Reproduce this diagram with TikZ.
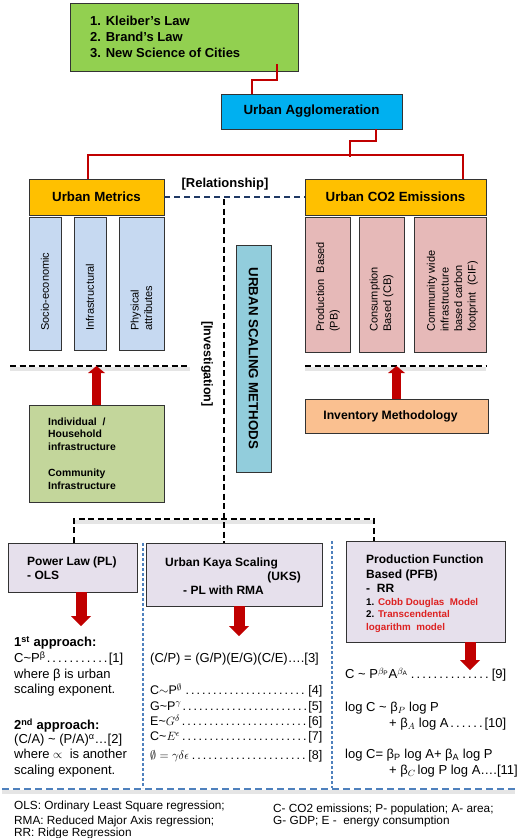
\documentclass[tikz,border=0pt]{standalone}
\usepackage{fontspec}
\setmainfont{Liberation Sans}
\usetikzlibrary{arrows.meta,calc}
\definecolor{kgreen}{HTML}{92D050}
\definecolor{ablue}{HTML}{00B0F0}
\definecolor{uorange}{HTML}{FFC000}
\definecolor{ltblue}{HTML}{C6D9F1}
\definecolor{pinkc}{HTML}{E6B9B8}
\definecolor{sgreen}{HTML}{C3D69B}
\definecolor{peach}{HTML}{FAC090}
\definecolor{usmc}{HTML}{92CDDC}
\definecolor{lav}{HTML}{E6E0EC}
\definecolor{dred}{HTML}{C00000}
\definecolor{tred}{HTML}{DD2222}
\definecolor{navyc}{HTML}{1F3864}
\definecolor{dblue}{HTML}{4F81BD}
\newcommand\myfs[2]{\fontsize{#1}{#2}\selectfont}
\newcommand\mkbox[7]{\node[box, fill=#6, minimum width={#4-#2}, minimum height={#5-#3}] (#1) at ({(#2+#4)/2},{(#3+#5)/2}) {#7};}
\begin{document}
\begin{tikzpicture}[x=1pt,y=-1pt,
  box/.style={draw=black!80, line width=0.9pt, inner sep=0pt, font=\bfseries\myfs{13.3}{15}},
  txt/.style={inner sep=0pt, anchor=base west},
  bt/.style={txt, font=\bfseries\myfs{12}{14}},
  rt/.style={txt, font=\myfs{13}{15}},
  ft/.style={txt, font=\myfs{11.8}{13}},
  gt/.style={txt, font=\bfseries\myfs{10.4}{13}},
  vtxt/.style={rotate=90, anchor=west, align=left, inner sep=0pt, font=\myfs{11}{13.6}},
  redln/.style={draw=dred, line width=1.8pt},
  navyln/.style={draw=navyc, line width=2pt, dash pattern=on 6pt off 4pt},
  blkdash/.style={draw=black, line width=2pt, dash pattern=on 6pt off 3.5pt},
  shd/.style={draw=black, line width=4pt, opacity=0.10},
  bluedash/.style={draw=dblue, line width=1.5pt, dash pattern=on 3pt off 2pt},
  bluedashh/.style={draw=dblue, line width=1.8pt, dash pattern=on 7pt off 4pt},
  upar/.style={draw=dred, line width=9pt, -{Triangle[width=17pt,length=7pt,line width=0pt]}},
  dnar/.style={draw=dred, line width=11pt, -{Triangle[width=20pt,length=10pt,line width=0pt]}}]
\path[use as bounding box, fill=white] (0,0) rectangle (518,838);

% top
\mkbox{laws}{70}{3}{298}{71}{kgreen}{}
\node[txt, font=\bfseries\myfs{13}{16}] (l1) at (90,25.5) {1. Kleiber’s Law};
\node[txt, font=\bfseries\myfs{13}{16}] (l2) at (90,41.7) {2. Brand’s Law};
\node[txt, font=\bfseries\myfs{13}{16}] (l3) at (90,57.7) {3. New Science of Cities};
\mkbox{ua}{221}{94}{402}{129}{ablue}{Urban Agglomeration}

\coordinate (a1) at (277,64);
\coordinate (a2) at (252,80);
\draw[redln] (a1) |- (a2) -- (a2 |- ua.north);
\coordinate (b1) at (376,129);
\coordinate (b2) at (350,141);
\coordinate (b3) at (350,157);
\draw[redln] (b1) |- (b2) -- (b3);

\mkbox{um}{29}{179}{164}{215}{uorange}{Urban Metrics}
\mkbox{co2}{305}{179}{486}{215}{uorange}{Urban CO2 Emissions}
\coordinate (c1) at (88,155);
\coordinate (c2) at (463,155);
\draw[redln] (c1 |- um.north) -- (c1) -- (c2) -- (c2 |- co2.north);

\draw[navyln] (um.east) -- (co2.west);
\node[inner sep=0pt, anchor=base, font=\bfseries\myfs{13}{15}] (rel) at (225,187.5) {[Relationship]};

% metric sub boxes
\mkbox{se}{29}{217}{61}{350}{ltblue}{}
\mkbox{inf}{74}{217}{106}{350}{ltblue}{}
\mkbox{phy}{119}{217}{164}{350}{ltblue}{}
\node[vtxt] (set) at (45,331) {Socio-economic};
\node[vtxt] (inft) at (90,331) {Infrastructural};
\node[vtxt] (phyt) at (141.5,331) {Physical\\attributes};

\mkbox{pb}{305}{217}{350}{352}{pinkc}{}
\mkbox{cb}{359}{217}{404}{352}{pinkc}{}
\mkbox{cif}{414}{217}{486}{352}{pinkc}{}
\node[vtxt] (pbt) at (328,332) {Production\ \ Based\\(PB)};
\node[vtxt] (cbt) at (381.5,332) {Consumption\\Based (CB)};
\node[vtxt] (cift) at (452.5,332) {Community wide\\infrastructure\\based carbon\\footprint\ \ (CIF)};

% urban scaling methods
\mkbox{usm}{236}{245}{271}{472}{usmc}{}
\node[rotate=-90, inner sep=0pt, font=\bfseries\myfs{13.3}{15}] (usmt) at (usm.center) {URBAN SCALING METHODS};
\node[rotate=-90, inner sep=0pt, font=\bfseries\myfs{12.5}{15}] (invg) at (207,364) {[Investigation]};

% dashed lines
\coordinate (v0) at (224,199);
\coordinate (tj) at (224,519);
\coordinate (tl) at (74,519);
\coordinate (tr) at (374,519);
\coordinate (dl1) at (10,366);
\coordinate (dl2) at (190,366);
\coordinate (dr1) at (305,366);
\coordinate (dr2) at (486,366);
\draw[shd] ($(dl1)+(0,3)$) -- ($(dl2)+(0,3)$);
\draw[shd] ($(dr1)+(0,3)$) -- ($(dr2)+(0,3)$);
\draw[shd] ($(tl)+(0,3)$) -- ($(tr)+(0,3)$);
\draw[blkdash] (dl1) -- (dl2);
\draw[blkdash] (dr1) -- (dr2);

% lower left / right boxes
\mkbox{sg}{29}{405}{164}{502}{sgreen}{}
\node[gt] (g1) at (48,425) {Individual\ \ /};
\node[gt] (g2) at (48,437.7) {Household};
\node[gt] (g3) at (48,450.7) {infrastructure};
\node[gt] (g4) at (48,476.7) {Community};
\node[gt] (g5) at (48,489.5) {Infrastructure};
\mkbox{invm}{305}{399}{488}{433}{peach}{}
\node[inner sep=0pt, font=\bfseries\myfs{12.2}{14}] (invt) at (390.5,416.5) {Inventory Methodology};
\draw[upar] (sg.north) -- (sg.north |- dl1);
\draw[upar] (invm.north) -- (invm.north |- dr1);

% method boxes
\mkbox{pl}{8}{543}{137}{592}{lav}{}
\mkbox{uks}{146}{543}{322}{606}{lav}{}
\mkbox{pfb}{346}{541}{505}{642}{lav}{}
\draw[blkdash] (v0) -- (tj) -- (tj |- uks.north);
\draw[blkdash] (tl |- pl.north) -- (tl) -- (tr) -- (tr |- pfb.north);

\node[bt] (pl1) at (27,565.5) {Power Law (PL)};
\node[bt] (pl2) at (27,579) {- OLS};
\node[bt] (uk1) at (165,566) {Urban Kaya Scaling};
\node[bt, anchor=base east] (uk2) at (301,580) {(UKS)};
\node[bt] (uk3) at (183,594.5) {- PL with RMA};
\node[bt] (pf1) at (366,563.5) {Production Function};
\node[bt] (pf2) at (366,578) {Based (PFB)};
\node[bt] (pf3) at (366,592.5) {-\ \ RR};
\node[txt, font=\bfseries\myfs{9.8}{12}] (pf4) at (366,605.5) {1. \textcolor{tred}{Cobb Douglas\ \ Model}};
\node[txt, font=\bfseries\myfs{9.8}{12}] (pf5) at (366,617.5) {2. \textcolor{tred}{Transcendental}};
\node[txt, font=\bfseries\myfs{9.8}{12}, text=tred] (pf6) at (366,630) {logarithm\ \ model};

% down arrows
\coordinate (d1) at (81,626);
\coordinate (d2) at (239,636);
\coordinate (d3) at (470,670);
\draw[dnar] (d1 |- pl.south) -- (d1);
\draw[dnar] (d2 |- uks.south) -- (d2);
\draw[dnar] (d3 |- pfb.south) -- (d3);

% blue separators
\coordinate (bv1t) at (143,543);
\coordinate (bv1b) at (143,788);
\coordinate (bv2t) at (332,541);
\coordinate (bv2b) at (332,788);
\coordinate (bh1) at (2,789);
\coordinate (bh2) at (515,789);
\draw[bluedash] (bv1t) -- (bv1b);
\draw[bluedash] (bv2t) -- (bv2b);
\draw[shd] ($(bh1)+(0,3)$) -- ($(bh2)+(0,3)$);
\draw[bluedashh] (bh1) -- (bh2);

% power law column
\node[txt, font=\bfseries\myfs{13}{15}] (p1) at (14,646.5) {1\textsuperscript{st} approach:};
\node[rt] (p2) at (14,662.5) {\makebox[109pt][l]{C\textasciitilde P\textsuperscript{β}\dotfill[1]}};
\node[rt] (p3) at (14,678.3) {where β is urban};
\node[rt] (p4) at (14,693.5) {scaling exponent.};
\node[txt, font=\bfseries\myfs{13}{15}] (p5) at (14,729.5) {2\textsuperscript{nd} approach:};
\node[rt] (p6) at (14,743.5) {(C/A) \textasciitilde{} (P/A)\textsuperscript{α}…[2]};
\node[rt] (p7) at (14,758.7) {where $\propto$\ \ is another};
\node[rt] (p8) at (14,774) {scaling exponent.};

% UKS column
\node[rt] (k1) at (150,662) {(C/P) = (G/P)(E/G)(C/E)….[3]};
\node[txt, font=\myfs{12.5}{15}] (k2) at (150,694.5) {\makebox[172pt][l]{$\mathrm{C}{\sim}\mathrm{P}^{\emptyset}$\dotfill[4]}};
\node[txt, font=\myfs{12.5}{15}] (k3) at (150,710) {\makebox[172pt][l]{G\textasciitilde$\mathrm{P}^{\gamma}$\dotfill[5]}};
\node[txt, font=\myfs{12.5}{15}] (k4) at (150,725.5) {\makebox[172pt][l]{E\textasciitilde$G^{\delta}$\dotfill[6]}};
\node[txt, font=\myfs{12.5}{15}] (k5) at (150,740.5) {\makebox[172pt][l]{C\textasciitilde$E^{\epsilon}$\dotfill[7]}};
\node[txt, font=\myfs{12.5}{15}] (k6) at (150,759) {\makebox[172pt][l]{$\emptyset=\gamma\delta\epsilon$\dotfill[8]}};

% PFB column
\node[rt] (f1) at (345,678.4) {\makebox[161pt][l]{C \textasciitilde{} $\mathrm{P}^{\beta_{\mathrm{P}}}\mathrm{A}^{\beta_{\mathrm{A}}}$\dotfill[9]}};
\node[rt] (f2) at (345,711.5) {log C \textasciitilde{} β$_P$ log P};
\node[rt] (f3) at (389,727) {\makebox[117pt][l]{+ β$_A$ log A\dotfill[10]}};
\node[rt] (f4) at (345,758) {log C= β$_{\mathrm{P}}$ log A+ β$_{\mathrm{A}}$ log P};
\node[rt] (f5) at (389,774) {+ β$_C\log$ P log A….[11]};

% footer
\node[ft] (n1) at (14,809) {OLS: Ordinary Least Square regression;};
\node[ft] (n2) at (14,824) {RMA: Reduced Major Axis regression;};
\node[ft] (n3) at (14,836) {RR: Ridge Regression};
\node[ft] (n4) at (273,812) {C- CO2 emissions; P- population; A- area;};
\node[ft] (n5) at (273,824.5) {G- GDP; E -\ \ energy consumption};
\end{tikzpicture}
\end{document}
